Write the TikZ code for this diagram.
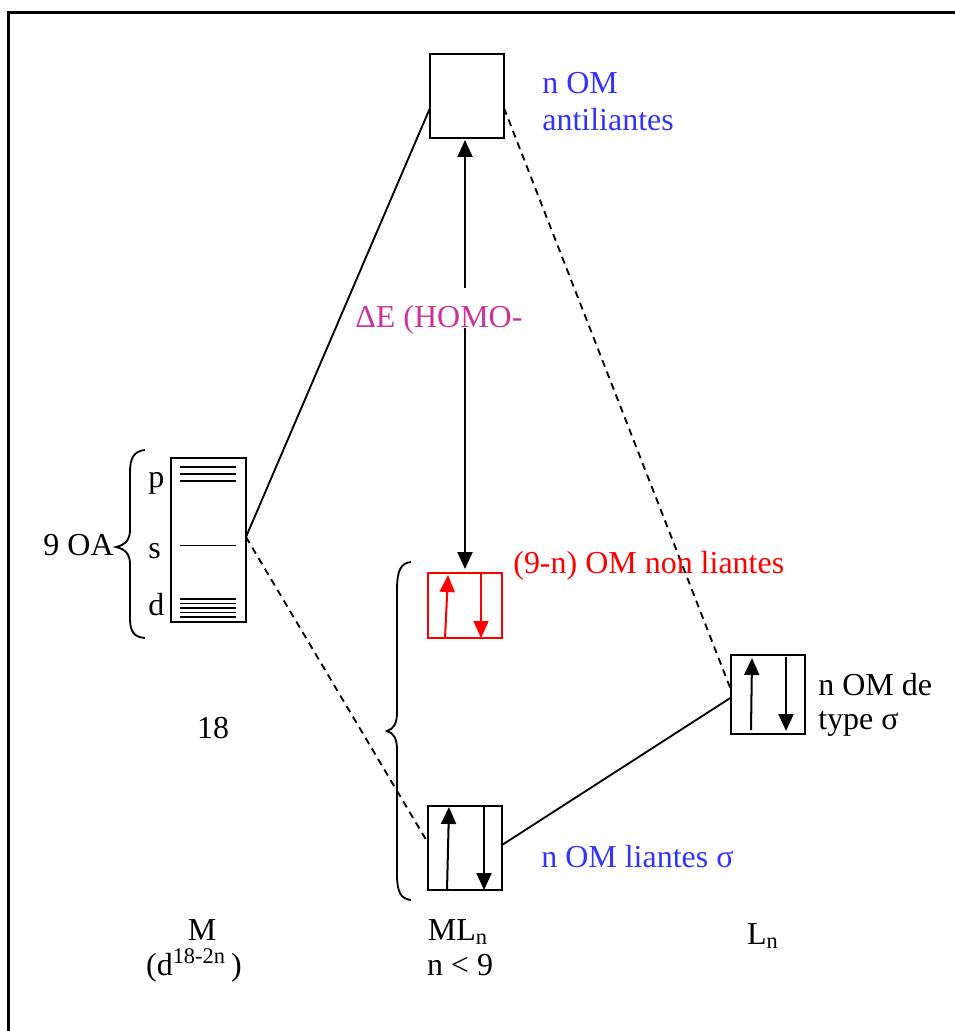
\documentclass[tikz,border=0pt]{standalone}
\usepackage{fontspec}
\setmainfont{Liberation Serif}
\usetikzlibrary{arrows.meta,calc}
\definecolor{omblue}{RGB}{51,51,255}
\definecolor{demag}{RGB}{204,51,153}
\begin{document}
\begin{tikzpicture}[x=0.02cm,y=-0.02cm,
  every node/.style={font=\fontsize{18.2}{21}\selectfont},
  mobox/.style={draw,line width=1.15pt,inner sep=0pt,outer sep=0pt,minimum width=1.48cm},
  lbl/.style={anchor=base west,inner sep=0pt},
  clbl/.style={anchor=base,inner sep=0pt},
  etip/.style={line width=1.15pt,-{Triangle[width=0.3cm,length=0.34cm]}},
  conn/.style={line width=1.05pt},
  dconn/.style={line width=1.05pt,dash pattern=on 4pt off 3pt},
  lvl/.style={line width=1.05pt},
  brace/.style={line width=1.05pt}]
\useasboundingbox (0,0) rectangle (955,1031);
% frame
\draw[line width=1.4pt] (8.5,1031) -- (8.5,12.5) -- (955,12.5);

% boxes
\node[mobox,minimum height=1.68cm] (top) at (467,96) {};
\node[mobox,draw=red,minimum height=1.3cm] (red) at (465,605.5) {};
\node[mobox,minimum height=1.68cm] (bot) at (465,848) {};
\node[mobox,minimum height=1.58cm] (R) at (768,694.5) {};
\node[mobox,minimum width=1.5cm,minimum height=3.28cm] (M) at (208.5,540) {};

% levels in M
\foreach \dy in {9,16,23,141,145.5,150,154.5,159}
  \draw[lvl] ($(M.north west)+(9,\dy)$) -- ++(56,0);
\draw[lvl] ($(M.north west)+(9,87.5)$) -- ++(56,0);

% electrons
\draw[etip,red] ($(red.south west)+(17,0)$) -- ($(red.north west)+(20,2)$);
\draw[etip,red] ($(red.north west)+(53,0)$) -- ($(red.south west)+(53,0)$);
\draw[etip] ($(bot.south west)+(19,0)$) -- ($(bot.north west)+(21,1)$);
\draw[etip] ($(bot.north west)+(56,0)$) -- ($(bot.south west)+(56,0)$);
\draw[etip] ($(R.south west)+(20,-4)$) -- ($(R.north west)+(21,3)$);
\draw[etip] ($(R.north west)+(55,2)$) -- ($(R.south west)+(55,-3)$);

% connectors
\draw[conn] ([yshift=-0.24cm]top.west) -- ([yshift=0.06cm]M.east);
\draw[dconn] ([yshift=0.06cm]M.east) -- ([yshift=0.1cm]bot.west);
\draw[dconn] ([yshift=-0.24cm]top.east) -- ([yshift=0.09cm]R.west);
\draw[conn] ([yshift=-0.06cm]R.west) -- ([yshift=0.06cm]bot.east);

% Delta E arrow
\coordinate (gapT) at (465,288);
\coordinate (gapB) at (465,328);
\draw[etip,shorten >=0.04cm] (gapT) -- (gapT |- top.south);
\draw[etip,shorten >=0.08cm] (gapB) -- (gapB |- red.north);

% braces
\draw[brace] (145,450) .. controls (134,451) and (130,458) .. (130,472) -- (130,530)
  .. controls (130,540) and (125,545) .. (116,547)
  .. controls (125,549) and (130,554) .. (130,564) -- (130,618)
  .. controls (130,632) and (134,637) .. (145,638);
\draw[brace] (411,562) .. controls (401,563) and (397,570) .. (397,590) -- (397,712)
  .. controls (397,723) and (394,729) .. (387,731)
  .. controls (394,733) and (397,739) .. (397,750) -- (397,875)
  .. controls (397,892) and (401,899) .. (411,900);

% texts
\node[lbl,text=omblue] (anti1) at (542,93) {n OM};
\node[lbl,text=omblue] (anti2) at (542,130) {antiliantes};
\node[lbl,text=red] (nonl) at (513,573) {(9-n) OM non liantes};
\node[lbl,text=omblue] (liant) at (541,867) {n OM liantes σ};
\node[lbl] (typ1) at (818,695) {n OM de};
\node[lbl] (typ2) at (818,729) {type σ};
\node[lbl,text=demag] (dE) at (355,327) {ΔE (HOMO-};
\node[anchor=base east,inner sep=0pt] (oa) at (114,555) {9 OA};
\node[lbl] (pl) at (148,487) {p};
\node[lbl] (sl) at (148,558) {s};
\node[lbl] (dl) at (148,615) {d};
\node[clbl] (n18) at (213,738) {18};
\node[clbl] (Mlab) at (202,940) {M};
\node[clbl] (Mcfg) at (194,975) {(d\textsuperscript{18-2n}\,)};
\node[clbl] (MLlab) at (458,940) {ML\textsubscript{n}};
\node[clbl] (nlt) at (460,975) {n < 9};
\node[clbl] (Llab) at (763,944) {L\textsubscript{n}};
\end{tikzpicture}
\end{document}
